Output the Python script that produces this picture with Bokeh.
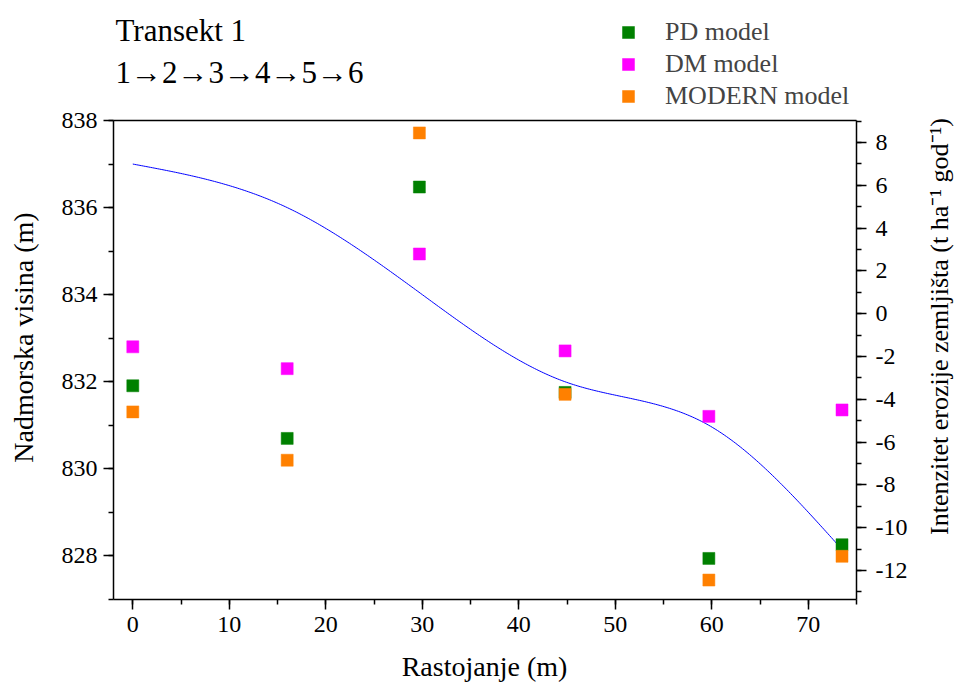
import math
import numpy as np
from bokeh.plotting import figure
from bokeh.models import (Range1d, LinearAxis, SingleIntervalTicker, Label,
                          Legend, LegendItem, CustomJSTickFormatter)
from bokeh.embed import file_html
from bokeh.resources import INLINE

# ---- data ----
distance = [0.0, 16.0, 29.7, 44.8, 59.7, 73.5]            # Rastojanje (m)
elevation = [837.0, 836.0, 834.05, 832.0, 831.0, 828.15]  # Nadmorska visina (m)
pd_model = [-3.37, -5.83, 5.92, -3.68, -11.44, -10.80]
dm_model = [-1.55, -2.57, 2.79, -1.74, -4.80, -4.50]
modern_model = [-4.59, -6.85, 8.45, -3.77, -12.45, -11.34]
series_names = ["PD model", "DM model", "MODERN model"]
series_colors = ["#008000", "#FF00FF", "#FF8000"]

# axis extents
x_lo, x_hi = -2.0, 75.0
elev_lo, elev_hi = 827.0, 838.0
ero_lo, ero_hi = -13.36, 9.03

FONT = "Liberation Serif"

# ---- layout (pixels) ----
W, H = 955, 688
BOX_L, BOX_R, BOX_T, BOX_B = 113, 856, 120, 599   # plotting box on the canvas


def natural_spline(x, y, n=400):
    """Smooth (natural cubic spline) rendering of the profile line."""
    x = np.asarray(x, float)
    y = np.asarray(y, float)
    k = len(x)
    h = np.diff(x)
    A = np.zeros((k, k))
    r = np.zeros(k)
    A[0, 0] = A[-1, -1] = 1.0
    for i in range(1, k - 1):
        A[i, i - 1] = h[i - 1]
        A[i, i] = 2 * (h[i - 1] + h[i])
        A[i, i + 1] = h[i]
        r[i] = 6 * ((y[i + 1] - y[i]) / h[i] - (y[i] - y[i - 1]) / h[i - 1])
    M = np.linalg.solve(A, r)
    xs = np.linspace(x[0], x[-1], n)
    ys = np.empty_like(xs)
    for j, t in enumerate(xs):
        i = min(np.searchsorted(x, t, side="right") - 1, k - 2)
        hi = h[i]
        a = x[i + 1] - t
        b = t - x[i]
        ys[j] = (M[i] * a ** 3 / (6 * hi) + M[i + 1] * b ** 3 / (6 * hi)
                 + (y[i] / hi - M[i] * hi / 6) * a
                 + (y[i + 1] / hi - M[i + 1] * hi / 6) * b)
    return xs, ys


def padded(lo, hi, span_px, pad_lo_px, pad_hi_px):
    s = span_px / (hi - lo)
    return Range1d(lo - pad_lo_px / s, hi + pad_hi_px / s)


# The frame covers the whole canvas; axes are drawn at fixed locations and
# bounded to the plotting box, so every text can sit inside the frame.
p = figure(frame_width=W, frame_height=H,
           min_border_left=0, min_border_right=0,
           min_border_top=0, min_border_bottom=0,
           x_range=padded(x_lo, x_hi, BOX_R - BOX_L, BOX_L, W - BOX_R),
           y_range=padded(elev_lo, elev_hi, BOX_B - BOX_T, H - BOX_B, BOX_T),
           output_backend="svg", toolbar_location=None,
           background_fill_color="white", border_fill_color="white")
p.xgrid.visible = False
p.ygrid.visible = False
p.outline_line_color = None
p.extra_y_ranges = {"ero": padded(ero_lo, ero_hi, BOX_B - BOX_T, H - BOX_B, BOX_T)}

xaxis = p.xaxis[0]
yaxis = p.yaxis[0]
raxis = LinearAxis(y_range_name="ero")
p.add_layout(raxis, "right")

xaxis.fixed_location = elev_lo
xaxis.bounds = (x_lo, x_hi)
yaxis.fixed_location = x_lo
yaxis.bounds = (elev_lo, elev_hi)
raxis.fixed_location = x_hi
raxis.bounds = (ero_lo, ero_hi)

xaxis.ticker = SingleIntervalTicker(interval=10, num_minor_ticks=2)
yaxis.ticker = SingleIntervalTicker(interval=2, num_minor_ticks=2)
raxis.ticker = SingleIntervalTicker(interval=2, num_minor_ticks=2)

for ax in [xaxis, yaxis, raxis]:
    ax.formatter = CustomJSTickFormatter(code="return String(Math.round(tick));")
    ax.axis_line_width = 1.5
    ax.major_tick_line_width = 1.5
    ax.minor_tick_line_width = 1.5
    ax.major_tick_out = 10
    ax.major_tick_in = 0
    ax.minor_tick_out = 5
    ax.minor_tick_in = 0
    ax.major_label_text_font = FONT
    ax.major_label_text_font_size = "24px"
    ax.major_label_text_color = "black"

xaxis.major_label_standoff = 7
yaxis.major_label_standoff = 6
raxis.major_label_standoff = 9

# top border of the plotting box
p.segment(x0=[x_lo], y0=[elev_hi], x1=[x_hi], y1=[elev_hi],
          line_color="black", line_width=1.5)

# profile line
lx, ly = natural_spline(distance, elevation)
p.line(lx, ly, line_color="#0000FF", line_width=1)

renderers = []
for vals, color in zip([pd_model, dm_model, modern_model], series_colors):
    r = p.scatter(distance, vals, y_range_name="ero", marker="square",
                  size=12, fill_color=color, line_color=color, line_width=0.5)
    renderers.append(r)

legend = Legend(items=[LegendItem(label=n, renderers=[r])
                       for n, r in zip(series_names, renderers)],
                location=(613, H - 111), orientation="vertical",
                glyph_width=30, glyph_height=30, label_height=30,
                spacing=2, padding=0, margin=0, label_standoff=22,
                label_text_font=FONT, label_text_font_size="26px",
                border_line_color=None, background_fill_alpha=0)
p.add_layout(legend, "center")


def add_text(text, px, py, size, angle=0.0, align="left"):
    """px, py: page pixels from the top-left corner (centre line of the text)."""
    p.add_layout(Label(x=px, y=H - py, x_units="screen", y_units="screen",
                       text=text, text_font=FONT, text_font_size=size,
                       angle=angle, text_align=align, text_baseline="middle",
                       text_color="black"))


add_text("Transekt 1", 115, 30, "31px")
add_text("1\u21922\u21923\u21924\u21925\u21926", 115, 72, "31px")
add_text("Nadmorska visina (m)", 23, 337, "28px", angle=math.pi / 2, align="center")
add_text("Intenzitet erozije zemljišta (t ha\u207b\u00b9 god\u207b\u00b9)", 939, 326, "26px",
         angle=math.pi / 2, align="center")
add_text("Rastojanje (m)", 484, 666, "28px", align="center")

open("out.html", "w").write(file_html(p, INLINE))
